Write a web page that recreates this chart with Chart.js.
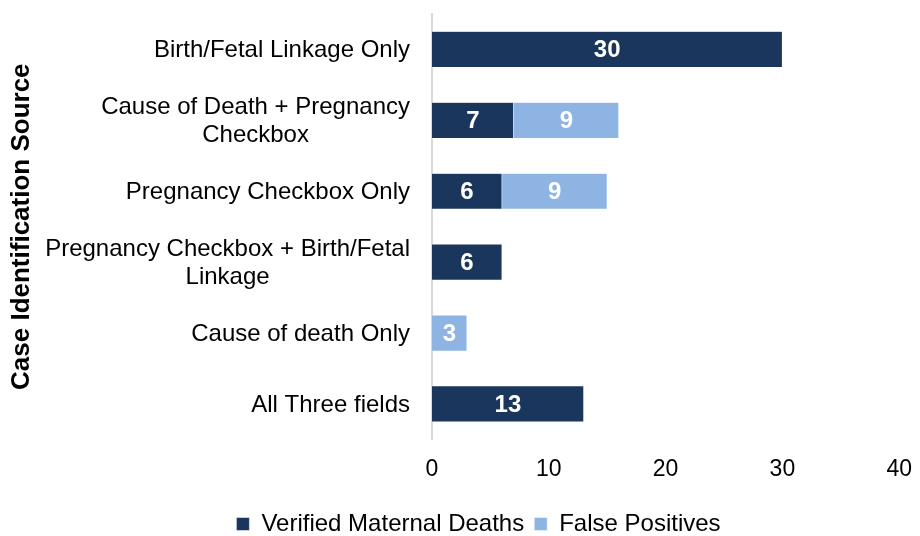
<!DOCTYPE html>
<html>
<head>
    <title>Case Identification Source</title>
    <script src="https://cdn.jsdelivr.net/npm/chart.js"></script>
    <style>
        html, body { margin: 0; padding: 0; background: #fff; }
        #wrap { width: 920px; height: 536px; }
    </style>
</head>
<body>
    <div id="wrap"><canvas id="caseChart" width="920" height="536"></canvas></div>

    <script>
        // categories (top to bottom), multi-line ones split as in the original
        const sources = [
            'Birth/Fetal Linkage Only',
            ['Cause of Death + Pregnancy', 'Checkbox'],
            'Pregnancy Checkbox Only',
            ['Pregnancy Checkbox + Birth/Fetal', 'Linkage'],
            'Cause of death Only',
            'All Three fields'
        ];
        const verified = [30, 7, 6, 6, 0, 13];
        const falsePos = [0, 9, 9, 0, 3, 0];
        const xTicks = [0, 10, 20, 30, 40];

        const FONT = '"Liberation Sans", Arial, sans-serif';

        // white numbers inside each bar segment
        const barLabels = {
            id: 'barLabels',
            afterDatasetsDraw(chart) {
                const ctx = chart.ctx;
                ctx.save();
                ctx.font = 'bold 24px ' + FONT;
                ctx.fillStyle = '#fff';
                ctx.textAlign = 'center';
                ctx.textBaseline = 'middle';
                chart.data.datasets.forEach((ds, i) => {
                    chart.getDatasetMeta(i).data.forEach((bar, j) => {
                        const v = ds.data[j];
                        if (!v) return;
                        const p = bar.getProps(['x', 'y', 'base'], true);
                        ctx.fillText(String(v), (p.x + p.base) / 2, p.y + 1);
                    });
                });
                ctx.restore();
            }
        };

        // category labels: block right-aligned to the axis, lines centred inside the block
        const catLabels = {
            id: 'catLabels',
            afterDraw(chart) {
                const ctx = chart.ctx;
                const y = chart.scales.y;
                const right = chart.chartArea.left - 22;
                const lh = 28;
                ctx.save();
                ctx.font = '24px ' + FONT;
                ctx.fillStyle = '#000';
                ctx.textAlign = 'center';
                ctx.textBaseline = 'middle';
                chart.data.labels.forEach((lab, i) => {
                    const lines = Array.isArray(lab) ? lab : [lab];
                    const w = Math.max(...lines.map(l => ctx.measureText(l).width));
                    const cx = right - w / 2;
                    const cy = y.getPixelForTick(i) - (lines.length - 1) * lh / 2;
                    lines.forEach((l, k) => ctx.fillText(l, cx, cy + k * lh + 1));
                });
                ctx.restore();
            }
        };

        Chart.defaults.font.family = FONT;
        Chart.defaults.color = '#000';

        new Chart(document.getElementById('caseChart'), {
            type: 'bar',
            data: {
                labels: sources,
                datasets: [
                    { label: 'Verified Maternal Deaths', data: verified, backgroundColor: '#1b365d', borderColor: '#fff', borderWidth: 0.5 },
                    { label: 'False Positives', data: falsePos, backgroundColor: '#8eb4e3', borderColor: '#fff', borderWidth: 0.5 }
                ]
            },
            options: {
                indexAxis: 'y',
                responsive: false,
                animation: false,
                // left padding shifts the legend to where it sits in the original
                layout: { padding: { top: 14, right: 19, left: 56, bottom: -10 } },
                datasets: { bar: { categoryPercentage: 1, barPercentage: 0.51 } },
                scales: {
                    x: {
                        stacked: true,
                        min: 0,
                        max: 40,
                        afterBuildTicks(axis) { axis.ticks = xTicks.map(v => ({ value: v })); },
                        afterFit(axis) { axis.height += 11; },
                        grid: { display: false },
                        border: { display: false },
                        ticks: { font: { size: 23 }, padding: 8, color: '#000' }
                    },
                    y: {
                        stacked: true,
                        afterFit(axis) { axis.width = 376; },
                        grid: { display: false },
                        border: { display: true, color: '#d9d9d9', width: 2 },
                        ticks: { display: false },
                        title: {
                            display: true,
                            text: 'Case Identification Source',
                            font: { size: 26, weight: 'bold' },
                            color: '#000',
                            padding: { top: -50, bottom: 0 }
                        }
                    }
                },
                plugins: {
                    legend: {
                        position: 'bottom',
                        labels: { font: { size: 24 }, color: '#000', boxWidth: 13, boxHeight: 13, padding: 10 }
                    },
                    tooltip: { enabled: false }
                }
            },
            plugins: [barLabels, catLabels]
        });
    </script>
</body>
</html>
